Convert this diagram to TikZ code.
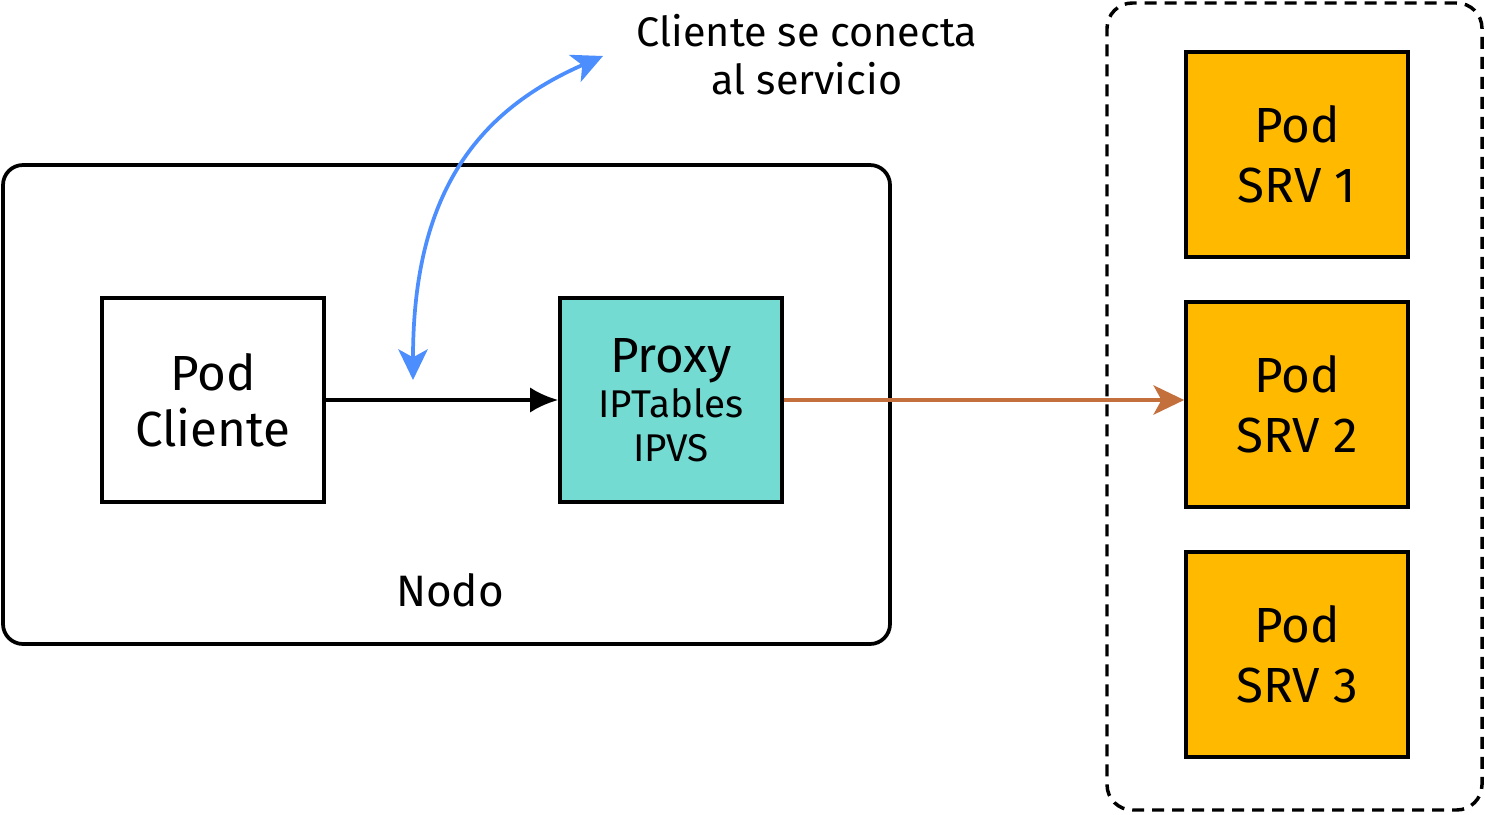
\documentclass[tikz,border=0pt]{standalone}
\usepackage{fontspec}
\setmainfont{Fira Sans}
\usepackage{tikz}
\usetikzlibrary{arrows.meta,positioning}

\definecolor{proxyteal}{RGB}{116,219,211}
\definecolor{podamber}{RGB}{255,186,0}
\definecolor{flowblue}{RGB}{77,142,255}
\definecolor{flowbrown}{RGB}{196,112,60}

\newcommand{\bigtxt}{\fontsize{37}{45}\selectfont}
\newcommand{\midtxt}{\fontsize{29}{33}\selectfont}

\tikzset{
  podbox/.style={draw, line width=2.8pt, minimum width=166.5pt, minimum height=153pt, align=center, inner sep=0pt, font=\bigtxt},
  linkarrow/.style={line width=2.8pt, -{Stealth[length=23pt,width=22pt,inset=6pt]}},
}

\begin{document}
\begin{tikzpicture}[x=0.75pt,y=0.75pt,yscale=-1,xscale=1]
\useasboundingbox (0,0) rectangle (1485,814);

%Shape: Rounded Rect [id:nodo]
\node [draw, line width=2.8pt, rounded corners=15pt, minimum width=665.25pt, minimum height=359.25pt] (nodo) at (446.5,404.5) {};
%Shape: Rounded Rect [id:grupo]
\node [draw, dashed, dash pattern=on 9pt off 6pt, line width=2.6pt, rounded corners=19pt, minimum width=281.25pt, minimum height=605.25pt] (grupo) at (1294.5,406.5) {};

%Shape: Rectangle [id:cliente]
\node [podbox, fill=white] (cliente) at (213,400) {Pod\\[-3pt]Cliente};
%Shape: Rectangle [id:proxy]
\node [podbox, fill=proxyteal, font=\midtxt] (proxy) at (671,400) {{\bigtxt Proxy}\\[1pt]IPTables\\[0pt]IPVS};

%Shape: Rectangle [id:srv1]
\node [podbox, fill=podamber, minimum height=153.75pt] (srv1) at (1297,154.5) {Pod\\[0pt]SRV 1};
%Shape: Rectangle [id:srv2]
\node [podbox, fill=podamber, minimum height=153.75pt] (srv2) at (1297,404.5) {Pod\\[0pt]SRV 2};
%Shape: Rectangle [id:srv3]
\node [podbox, fill=podamber, minimum height=153.75pt] (srv3) at (1297,654.5) {Pod\\[0pt]SRV 3};

% Text Node
\node [font=\fontsize{33}{38}\selectfont] (nodolbl) at (450,590) {Nodo};
% Text Node
\node [align=center, font=\fontsize{31}{36}\selectfont] (conlbl) at (807,55) {Cliente se conecta\\al servicio};

%Straight Lines [id:cliente-proxy]
\draw [linkarrow, -{Latex[length=21pt,width=19pt]}] (cliente.east) -- (proxy.west);
%Straight Lines [id:proxy-srv2]
\draw [linkarrow, flowbrown] (proxy.east) -- (proxy.east -| srv2.west);

%Curve Lines [id:conecta]
\coordinate (conA) at (413,380);
\coordinate (conB) at (603,56);
\draw [linkarrow, flowblue, {Stealth[length=23pt,width=22pt,inset=6pt]}-{Stealth[length=23pt,width=22pt,inset=6pt]}] (conA) .. controls (413,190) and (480,110) .. (conB);

\end{tikzpicture}
\end{document}
